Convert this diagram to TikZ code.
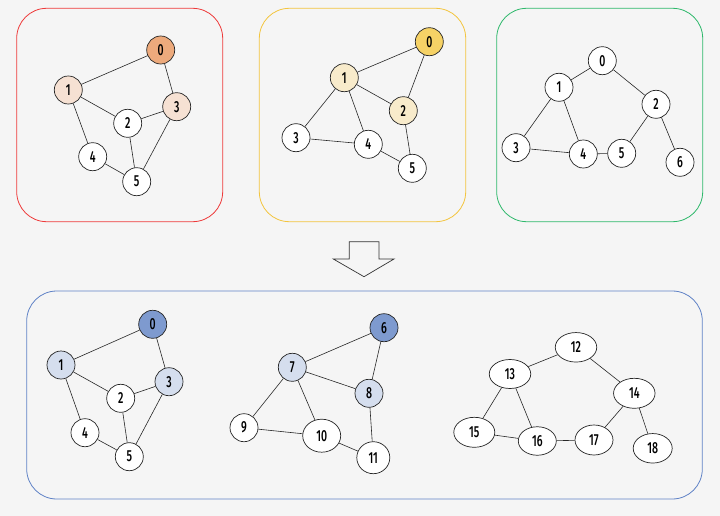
\documentclass[tikz,border=0pt]{standalone}
\usepackage{fontspec}
\setmainfont{Fira Sans}[FakeStretch=0.66, UprightFont={* Medium}]
\usetikzlibrary{shapes.geometric}
\definecolor{bg}{HTML}{F5F5F5}
\definecolor{fred}{HTML}{EE3A3A}
\definecolor{fyel}{HTML}{F3C53F}
\definecolor{fgrn}{HTML}{2EB86B}
\definecolor{fblu}{HTML}{5F82C6}
\definecolor{org}{HTML}{EDAA7C}
\definecolor{peach}{HTML}{F6E1D3}
\definecolor{gold}{HTML}{F6D266}
\definecolor{lyel}{HTML}{F8EBCB}
\definecolor{dblu}{HTML}{7E9ACF}
\definecolor{lblu}{HTML}{D5DEEE}
\begin{document}
\begin{tikzpicture}[x=1pt,y=-1pt,
  vtx/.style={circle, draw=black!85, line width=0.7pt, fill=white, minimum size=28pt, inner sep=0pt, font=\fontsize{16}{16}\selectfont},
  ell/.style={ellipse, draw=black!85, line width=0.7pt, fill=white, minimum width=40pt, minimum height=30pt, inner sep=0pt, font=\fontsize{16}{16}\selectfont},
  lnk/.style={draw=black!85, line width=0.6pt},
  frame/.style={rounded corners=30pt, line width=0.8pt}]
\fill[bg] (0,0) rectangle (720,516);
\useasboundingbox (0,0) rectangle (720,516);
% frames
\draw[frame, fred] (16.7,8.3) rectangle (222.7,221.7);
\draw[frame, fyel] (259.3,8.3) rectangle (465.7,221.7);
\draw[frame, fgrn] (496.7,8.3) rectangle (702.7,221.7);
\draw[frame, fblu] (26.7,291) rectangle (702.3,499);
% arrow
\draw[line width=0.7pt, draw=black!80, fill=bg] (349.3,241.7) -- (379,241.7) -- (379,259) -- (394,259) -- (364,276.7) -- (333.3,259) -- (349.3,259) -- cycle;
% graph 1
\node[vtx, fill=org] (a0) at (160.7,50) {0};
\node[vtx, fill=peach] (a1) at (68.3,90) {1};
\node[vtx] (a2) at (127.7,123.3) {2};
\node[vtx, fill=peach] (a3) at (176.7,106.7) {3};
\node[vtx] (a4) at (92.7,156.7) {4};
\node[vtx] (a5) at (136.7,181.7) {5};
\draw[lnk] (a0)--(a1) (a0)--(a3) (a1)--(a2) (a2)--(a3) (a1)--(a4) (a2)--(a5) (a3)--(a5) (a4)--(a5);
% graph 2
\node[vtx, fill=gold] (b0) at (429.3,41.7) {0};
\node[vtx, fill=lyel] (b1) at (344.3,77.7) {1};
\node[vtx, fill=lyel] (b2) at (403.3,110.7) {2};
\node[vtx] (b3) at (296,137.7) {3};
\node[vtx] (b4) at (368.3,144.3) {4};
\node[vtx] (b5) at (412.3,168.3) {5};
\draw[lnk] (b0)--(b1) (b0)--(b2) (b1)--(b2) (b1)--(b3) (b1)--(b4) (b3)--(b4) (b4)--(b5) (b2)--(b5);
% graph 3
\node[vtx] (c0) at (602.3,60.7) {0};
\node[vtx] (c1) at (559,87.3) {1};
\node[vtx] (c2) at (656,104.3) {2};
\node[vtx] (c3) at (516,147.7) {3};
\node[vtx] (c4) at (583.3,154) {4};
\node[vtx] (c5) at (621.7,153.3) {5};
\node[vtx] (c6) at (680,162.3) {6};
\draw[lnk] (c0)--(c1) (c0)--(c2) (c1)--(c3) (c1)--(c4) (c3)--(c4) (c4)--(c5) (c5)--(c2) (c2)--(c6);
% bottom A
\node[vtx, fill=dblu] (d0) at (152.7,324.3) {0};
\node[vtx, fill=lblu] (d1) at (61,365) {1};
\node[vtx] (d2) at (120.7,398.3) {2};
\node[vtx, fill=lblu] (d3) at (169,381.7) {3};
\node[vtx] (d4) at (85,432.7) {4};
\node[vtx] (d5) at (129.3,456.7) {5};
\draw[lnk] (d0)--(d1) (d0)--(d3) (d1)--(d2) (d2)--(d3) (d1)--(d4) (d2)--(d5) (d3)--(d5) (d4)--(d5);
% bottom B
\node[vtx, fill=dblu] (e6) at (384,327.7) {6};
\node[vtx, fill=lblu] (e7) at (292.3,367.3) {7};
\node[vtx, fill=lblu] (e8) at (369,393.3) {8};
\node[vtx] (e9) at (244,427.7) {9};
\node[ell, minimum width=38pt, minimum height=33pt] (e10) at (321.7,435.7) {10};
\node[ell, minimum width=33pt, minimum height=32pt] (e11) at (373.3,457.7) {11};
\draw[lnk] (e6)--(e7) (e6)--(e8) (e7)--(e8) (e7)--(e9) (e7)--(e10) (e9)--(e10) (e10)--(e11) (e8)--(e11);
% bottom C
\node[ell, minimum width=41.5pt, minimum height=29.5pt] (f12) at (576,347.3) {12};
\node[ell, minimum width=41.5pt, minimum height=29pt] (f13) at (510,374) {13};
\node[ell, minimum width=41.5pt, minimum height=30pt] (f14) at (634.3,393.3) {14};
\node[ell, minimum width=41pt, minimum height=30pt] (f15) at (474.3,432.3) {15};
\node[ell, minimum width=38pt, minimum height=28.5pt] (f16) at (537.3,441) {16};
\node[ell, minimum width=38pt, minimum height=30pt] (f17) at (594,440) {17};
\node[ell, minimum width=39pt, minimum height=29.5pt] (f18) at (652.7,448.3) {18};
\draw[lnk] (f12)--(f13) (f12)--(f14) (f13)--(f15) (f13)--(f16) (f15)--(f16) (f16)--(f17) (f17)--(f14) (f14)--(f18);
\end{tikzpicture}
\end{document}
